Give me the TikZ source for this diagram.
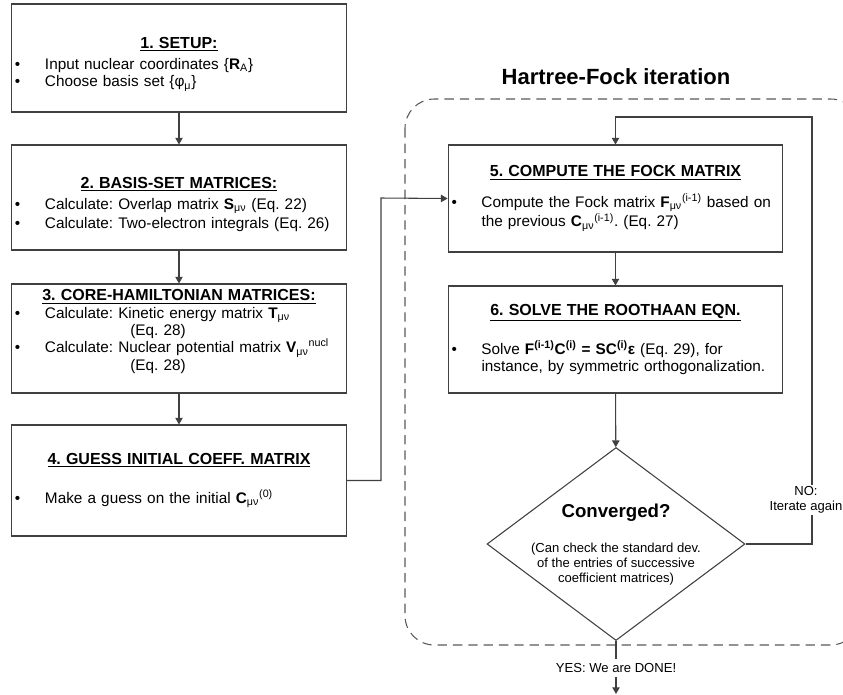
\documentclass[tikz,border=0pt]{standalone}
\usepackage{fontspec}
\setmainfont{Liberation Sans}
\usetikzlibrary{shapes.geometric,arrows.meta}
\frenchspacing
\newcommand{\steptitle}[1]{\centering{\fontsize{12}{13}\selectfont\underline{\textbf{#1}}}\par}
\newcommand{\bitem}[1]{\par\raggedright\hangindent=22.5pt\hangafter=1\noindent\makebox[22.5pt][l]{\textbullet}#1\par}
\newcommand{\mn}{\textsubscript{μν}}
\newcommand{\padtop}[1]{\rule{0pt}{#1}}
\newcommand{\padbot}[1]{\rule[-#1]{0pt}{#1}}

\begin{document}
\begin{tikzpicture}[x=.75pt,y=-.75pt,
  stepbox/.style={draw=black!75, line width=.8pt, rectangle, inner xsep=2.5pt, inner ysep=0pt,
    minimum width=251pt, text width=246pt, font=\fontsize{11.5}{13}\selectfont},
  decision/.style={draw=black!75, line width=.8pt, diamond, inner sep=0pt,
    minimum width=193.5pt, minimum height=144.75pt},
  flow/.style={-{Triangle[length=5pt,width=5.5pt]}, draw=black!75, line width=.8pt},
  frame/.style={draw=black!65, line width=.8pt, dash pattern=on 7pt off 4.5pt, rounded corners=22pt},
  small/.style={font=\fontsize{9.8}{11.25}\selectfont, align=center}]
\clip (0,0) rectangle (843,694);
\draw[frame] (405,99) rectangle (860,645);
\node[font=\fontsize{16.5}{18}\selectfont\bfseries] (hftitle) at (616,77) {Hartree-Fock iteration};

\node[stepbox, minimum height=81pt] (box1) at (179,58) {
\steptitle{\padtop{17.5pt}1. SETUP:}
\vspace{3pt}
\bitem{Input nuclear coordinates \{\textbf{R}\textsubscript{A}\}}
\bitem{Choose basis set \{φ\textsubscript{μ}\}}};
\node[stepbox, minimum height=78.75pt] (box2) at (179,197.5) {
\steptitle{\padtop{18.5pt}2. BASIS-SET MATRICES:}
\vspace{3pt}
\bitem{Calculate: Overlap matrix \textbf{S}\mn\ (Eq. 22)}
\vspace{1pt}
\bitem{Calculate: Two-electron integrals (Eq. 26)}};
\node[stepbox, minimum height=81.75pt] (box3) at (179,338.5) {
\steptitle{3. CORE-HAMILTONIAN MATRICES:}
\bitem{Calculate: Kinetic energy matrix \textbf{T}\mn\newline\hspace*{64pt}(Eq. 28)}
\bitem{Calculate: Nuclear potential matrix \textbf{V}\mn\textsuperscript{nucl}\newline\hspace*{64pt}(Eq. 28)\padbot{13pt}}};
\node[stepbox, minimum height=83.25pt] (box4) at (179,480.5) {
\steptitle{4. GUESS INITIAL COEFF. MATRIX}
\vspace{16pt}
\bitem{Make a guess on the initial \textbf{C}\mn\textsuperscript{(0)}}};
\node[stepbox, minimum height=80.25pt] (box5) at (615.5,198.5) {
\steptitle{5. COMPUTE THE FOCK MATRIX}
\vspace{10pt}
\bitem{Compute the Fock matrix \textbf{F}\mn\textsuperscript{(i-1)} based on\newline the previous \textbf{C}\mn\textsuperscript{(i-1)}. (Eq. 27)}};
\node[stepbox, minimum height=80.25pt] (box6) at (615.5,339.5) {
\steptitle{6. SOLVE THE ROOTHAAN EQN.}
\vspace{14pt}
\bitem{Solve \textbf{F\textsuperscript{(i-1)}C\textsuperscript{(i)} = SC\textsuperscript{(i)}ε} (Eq. 29), for\newline instance, by symmetric orthogonalization.}};

\node[decision] (conv) at (616,544) {};
\node[font=\fontsize{14}{16}\selectfont\bfseries] (convq) at (616,513) {Converged?};
\node[small] (convnote) at (616,564) {(Can check the standard dev.\\of the entries of successive\\coefficient matrices)};

\coordinate (bend) at (381,198);
\coordinate (loopR) at (812,117);
\coordinate (finish) at (616,694);
\node[small] (done) at (616,668) {YES: We are DONE!};

% straight steps
\foreach \a/\b in {box1/box2,box2/box3,box3/box4,box5/box6,box6/conv}{
\draw[flow] (\a) -- (\b);
}
\draw[flow] (box4.east) -| (bend) -- (box5.west);
\draw[flow] (conv.east) -| (loopR) -| (box5.north);
\draw[draw=black!75, line width=.8pt] (conv.south) -- (done.north);
\draw[flow] (done.south) -- (finish);
\node[small, fill=white, inner sep=1pt] (nolab) at (806,500) {NO:\\Iterate again};
\end{tikzpicture}
\end{document}
